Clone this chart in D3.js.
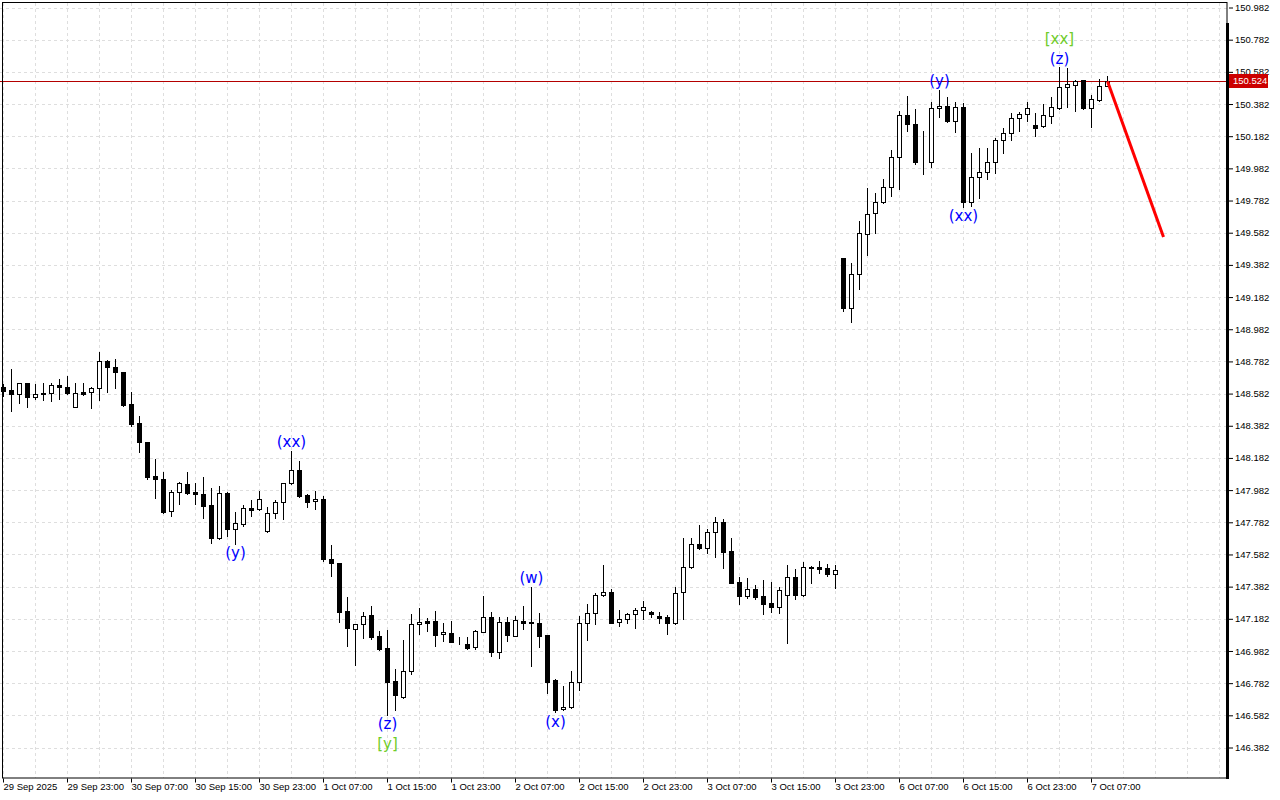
<!DOCTYPE html>
<html>
<head>
<meta charset="utf-8">
<script src="https://cdn.jsdelivr.net/npm/d3@7"></script>
<style>
  body { margin: 0; background: #fff; }
  svg { display: block; }
  .axis text { font-family: "Liberation Sans", Arial, sans-serif; font-size: 9.5px; fill: #000; }
</style>
</head>
<body>
<div id="chart"></div>
<script>
// H1 candles, 29 Sep 15:00 .. 7 Oct 09:00 (weekend skipped)
var opens = [148.623,148.604,148.578,148.646,148.563,148.588,148.584,148.635,148.621,148.501,
148.594,148.590,148.615,148.786,148.745,148.714,148.515,148.397,148.279,148.070,
148.049,147.850,147.968,148.018,147.970,147.956,147.889,147.682,147.966,147.738,
147.771,147.869,147.863,147.728,147.838,147.906,148.024,148.107,147.952,147.914,
147.927,147.554,147.527,147.230,147.117,147.148,147.206,147.075,146.999,146.795,
146.698,146.859,147.148,147.168,147.168,147.086,147.092,147.032,147.025,147.005,
147.102,147.195,146.978,147.160,147.077,147.170,147.162,147.154,147.081,146.802,
146.619,146.636,146.791,147.159,147.221,147.328,147.347,147.164,147.179,147.210,
147.235,147.222,147.199,147.191,147.154,147.347,147.506,147.645,147.624,147.720,
147.782,147.603,147.409,147.326,147.365,147.324,147.278,147.257,147.328,147.444,
147.332,147.498,147.502,147.496,147.459,149.423,149.112,149.324,149.572,149.703,
149.771,149.864,150.055,150.314,150.256,150.027,150.023,150.359,150.372,150.278,
150.365,149.775,149.926,149.958,150.020,150.158,150.200,150.293,150.318,150.252,
150.247,150.309,150.355,150.486,150.500,150.531,150.355,150.407,150.494];
var highs = [148.642,148.735,148.648,148.650,148.642,148.645,148.650,148.671,148.691,148.646,
148.646,148.625,148.839,148.791,148.795,148.716,148.590,148.443,148.281,148.174,
148.093,147.983,148.034,148.093,148.024,148.063,147.997,148.009,147.968,147.848,
147.889,147.921,147.976,147.875,147.921,148.024,148.225,148.163,147.955,147.976,
147.945,147.641,147.530,147.316,147.150,147.222,147.262,147.108,147.112,146.868,
147.050,147.212,147.251,147.189,147.230,147.154,147.168,147.067,147.071,147.110,
147.324,147.222,147.191,147.191,147.199,147.263,147.382,147.220,147.083,146.806,
146.764,146.858,147.199,147.274,147.344,147.516,147.365,147.237,147.220,147.251,
147.293,147.230,147.222,147.206,147.378,147.682,147.682,147.765,147.740,147.813,
147.802,147.682,147.440,147.434,147.392,147.423,147.411,147.378,147.516,147.492,
147.533,147.512,147.541,147.521,147.515,149.425,149.396,149.655,149.862,149.827,
149.916,150.096,150.339,150.432,150.349,150.214,150.393,150.469,150.428,150.396,
150.386,150.076,150.107,150.107,150.173,150.231,150.324,150.330,150.393,150.324,
150.380,150.428,150.610,150.604,150.531,150.533,150.438,150.536,150.556];
var lows = [148.567,148.476,148.525,148.499,148.546,148.542,148.536,148.546,148.579,148.497,
148.573,148.494,148.542,148.590,148.619,148.507,148.382,148.221,148.049,147.936,
147.838,147.823,147.894,147.956,147.894,147.806,147.651,147.678,147.699,147.647,
147.761,147.821,147.858,147.723,147.810,147.802,148.020,147.937,147.879,147.863,
147.544,147.451,147.164,147.015,146.895,147.064,147.054,146.988,146.584,146.615,
146.688,146.837,147.088,147.108,147.015,147.044,147.036,147.025,146.994,146.994,
147.100,146.951,146.937,147.046,147.075,147.117,146.890,147.009,146.723,146.601,
146.617,146.626,146.739,147.050,147.147,147.324,147.156,147.137,147.158,147.127,
147.181,147.191,147.158,147.088,147.152,147.179,147.496,147.614,147.589,147.568,
147.500,147.403,147.274,147.309,147.305,147.212,147.226,147.216,147.033,147.304,
147.326,147.406,147.465,147.450,147.375,149.097,149.029,149.230,149.443,149.582,
149.769,149.812,149.852,150.216,150.007,149.945,149.992,150.299,150.272,150.210,
149.744,149.750,149.796,149.914,149.951,150.076,150.158,150.216,150.276,150.183,
150.241,150.262,150.351,150.365,150.339,150.353,150.241,150.401,150.492];
var closes = [148.598,148.578,148.646,148.563,148.579,148.578,148.635,148.621,148.584,148.584,
148.581,148.615,148.786,148.745,148.714,148.511,148.393,148.283,148.065,148.049,
147.848,147.968,148.024,147.966,147.956,147.885,147.682,147.962,147.738,147.776,
147.869,147.858,147.925,147.838,147.906,148.024,148.107,147.947,147.910,147.927,
147.551,147.527,147.226,147.123,147.148,147.201,147.071,146.994,146.791,146.708,
146.858,147.150,147.160,147.158,147.081,147.098,147.040,147.029,147.002,147.106,
147.195,146.978,147.160,147.081,147.175,147.158,147.154,147.077,146.791,146.615,
146.636,146.791,147.159,147.221,147.328,147.347,147.158,147.181,147.210,147.237,
147.254,147.210,147.189,147.154,147.344,147.506,147.645,147.624,147.720,147.782,
147.599,147.406,147.326,147.365,147.319,147.274,147.257,147.359,147.444,147.332,
147.502,147.506,147.492,147.459,147.484,149.112,149.324,149.578,149.697,149.771,
149.864,150.055,150.314,150.256,150.023,150.025,150.359,150.372,150.278,150.365,
149.775,149.926,149.958,150.020,150.158,150.200,150.293,150.318,150.360,150.231,
150.314,150.362,150.486,150.506,150.525,150.355,150.411,150.494,150.524];

var priceTicks = [150.982,150.782,150.582,150.382,150.182,149.982,149.782,149.582,149.382,149.182,
148.982,148.782,148.582,148.382,148.182,147.982,147.782,147.582,147.382,147.182,146.982,146.782,146.582,146.382];
var timeLabels = ["29 Sep 2025","29 Sep 23:00","30 Sep 07:00","30 Sep 15:00","30 Sep 23:00","1 Oct 07:00",
"1 Oct 15:00","1 Oct 23:00","2 Oct 07:00","2 Oct 15:00","2 Oct 23:00","3 Oct 07:00","3 Oct 15:00",
"3 Oct 23:00","6 Oct 07:00","6 Oct 15:00","6 Oct 23:00","7 Oct 07:00"];
var currentPrice = 150.524;

// wave marks: text, bar, side (1 above high, -1 below low), row
var waveText = ["(y)","(xx)","(z)","[y]","(w)","(x)","(y)","(xx)","(z)","[xx]"];
var waveBar  = [29, 36, 48, 48, 66, 69, 117, 120, 132, 132];
var waveSide = [-1, 1, -1, -1, 1, -1, 1, -1, 1, 1];
var waveRow  = [0, 0, 0, 1, 0, 0, 0, 0, 0, 1];
var waveColor = ["#0000ff","#0000ff","#0000ff","#6fcc2a","#0000ff","#0000ff","#0000ff","#0000ff","#0000ff","#6fcc2a"];

// forecast line
var fcBar = [138, 145];
var fcPrice = [150.524, 149.555];

var W = 1280, H = 800;
var plotRight = 1227, plotBottom = 778;

var svg = d3.select("#chart").append("svg")
    .attr("width", W)
    .attr("height", H);

var x = d3.scaleLinear().domain([0, 153]).range([3, 3 + 8 * 153]);
var y = d3.scaleLinear().domain([146.382, 150.982]).range([747.5, 7.5]);

// grid
var grid = svg.append("g");
grid.selectAll(".hg").data(priceTicks).enter().append("line")
    .attr("x1", 0).attr("x2", plotRight)
    .attr("y1", function (d) { return Math.round(y(d)) + 0.5; })
    .attr("y2", function (d) { return Math.round(y(d)) + 0.5; })
    .attr("stroke", "#dedede").attr("stroke-dasharray", "3,3");
grid.selectAll(".vg").data(d3.range(0, 153, 4)).enter().append("line")
    .attr("x1", function (d) { return x(d) + 0.5; })
    .attr("x2", function (d) { return x(d) + 0.5; })
    .attr("y1", 3).attr("y2", plotBottom)
    .attr("stroke", "#dedede").attr("stroke-dasharray", "3,3");

// current price line
svg.append("line")
    .attr("x1", 0).attr("x2", plotRight)
    .attr("y1", Math.round(y(currentPrice)) + 0.5)
    .attr("y2", Math.round(y(currentPrice)) + 0.5)
    .attr("stroke", "#b40000");

// candles
var idx = d3.range(opens.length);
var candles = svg.append("g");
candles.selectAll(".wick").data(idx).enter().append("line")
    .attr("x1", function (i) { return x(i) + 0.5; })
    .attr("x2", function (i) { return x(i) + 0.5; })
    .attr("y1", function (i) { return Math.round(y(highs[i])); })
    .attr("y2", function (i) { return Math.round(y(lows[i])) + 1; })
    .attr("stroke", "#000");
candles.selectAll(".body").data(idx).enter().append("rect")
    .attr("x", function (i) { return x(i) - 1.5; })
    .attr("width", 4)
    .attr("y", function (i) { return Math.round(y(Math.max(opens[i], closes[i]))) + 0.5; })
    .attr("height", function (i) {
        return Math.max(0, Math.round(y(Math.min(opens[i], closes[i]))) - Math.round(y(Math.max(opens[i], closes[i]))));
    })
    .attr("fill", function (i) { return closes[i] >= opens[i] ? "#fff" : "#000"; })
    .attr("stroke", "#000");

// forecast
svg.append("line")
    .attr("x1", x(fcBar[0]) + 0.5).attr("y1", y(fcPrice[0]))
    .attr("x2", x(fcBar[1]) + 0.5).attr("y2", y(fcPrice[1]))
    .attr("stroke", "#ff0000").attr("stroke-width", 3);

// wave labels
svg.append("g").selectAll("text").data(waveText).enter().append("text")
    .attr("x", function (d, k) { return x(waveBar[k]) + 0.5; })
    .attr("y", function (d, k) {
        var b = waveBar[k];
        var off = 9 + waveRow[k] * 20;
        return waveSide[k] > 0 ? y(highs[b]) - off : y(lows[b]) + off;
    })
    .attr("dy", "0.36em")
    .attr("text-anchor", "middle")
    .style("font-family", "DejaVu Sans, sans-serif")
    .style("font-size", "15px")
    .attr("fill", function (d, k) { return waveColor[k]; })
    .text(function (d) { return d; });

// frame
svg.append("rect")
    .attr("x", 2.5).attr("y", 2.5)
    .attr("width", plotRight - 2.5).attr("height", plotBottom - 2.5)
    .attr("fill", "none").attr("stroke", "#000");
svg.append("line")
    .attr("x1", plotRight + 0.5).attr("x2", plotRight + 0.5)
    .attr("y1", 23).attr("y2", plotBottom + 1)
    .attr("stroke", "#000").attr("stroke-width", 3);

// right axis
var yAxis = d3.axisRight(y)
    .tickValues(priceTicks)
    .tickSize(4)
    .tickPadding(2)
    .tickFormat(d3.format(".3f"));
var ya = svg.append("g").attr("class", "axis")
    .attr("transform", "translate(" + (plotRight + 2) + ",0)")
    .call(yAxis);
ya.select(".domain").remove();
ya.selectAll(".tick line").attr("stroke", "#000");

// bottom axis
var tickBars = d3.range(0, 137, 8);
var xAxis = d3.axisBottom(x)
    .tickValues(tickBars)
    .tickSize(4)
    .tickFormat(function (d, k) { return timeLabels[k]; });
var xa = svg.append("g").attr("class", "axis")
    .attr("transform", "translate(0," + (plotBottom + 0.5) + ")")
    .call(xAxis);
xa.select(".domain").remove();
xa.selectAll(".tick text").attr("text-anchor", "start").attr("x", 0).attr("y", 5);
xa.selectAll(".tick line").attr("stroke", "#000");

// price tag
var tagY = Math.round(y(currentPrice));
svg.append("rect")
    .attr("x", 1229).attr("y", tagY - 7)
    .attr("width", 39).attr("height", 14)
    .attr("fill", "#cc0000");
svg.append("text")
    .attr("x", 1233).attr("y", tagY)
    .attr("dy", "0.35em")
    .style("font-family", "Liberation Sans, Arial, sans-serif")
    .style("font-size", "9.5px")
    .attr("fill", "#fff")
    .text(currentPrice.toFixed(3));
</script>
</body>
</html>
